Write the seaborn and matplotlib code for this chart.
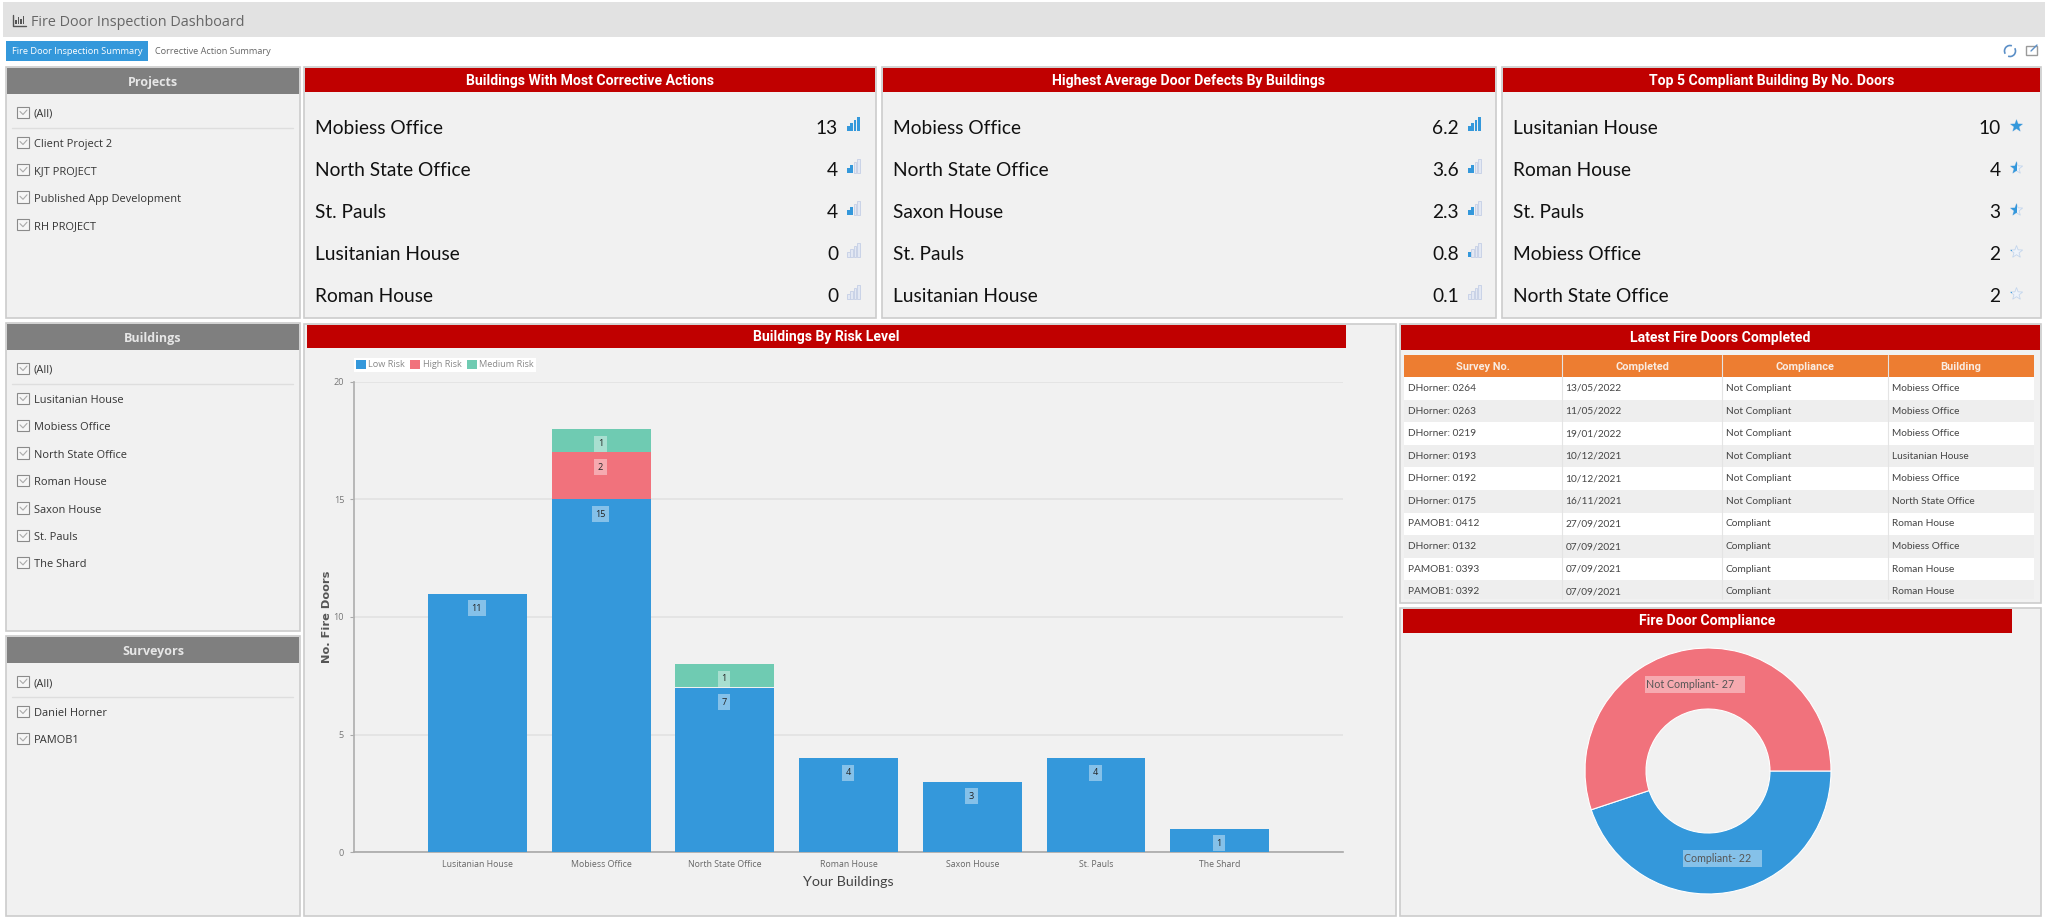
import matplotlib
matplotlib.use("Agg")
import matplotlib.pyplot as plt
import pandas as pd
import seaborn as sns
from matplotlib.patches import Rectangle, Polygon, Arc
import numpy as np

# bar chart data
buildings = ["Lusitanian House", "Mobiess Office", "North State Office", "Roman House",
             "Saxon House", "St. Pauls", "The Shard"]
low_risk = [11, 15, 7, 4, 3, 4, 1]
high_risk = [0, 2, 0, 0, 0, 0, 0]
medium_risk = [0, 1, 1, 0, 0, 0, 0]

# donut
compliance_labels = ["Compliant", "Not Compliant"]
compliance_values = [22, 27]

# kpi lists
kpi1_names = ["Mobiess Office", "North State Office", "St. Pauls", "Lusitanian House", "Roman House"]
kpi1_values = ["13", "4", "4", "0", "0"]
kpi1_levels = [4, 2, 2, 0, 0]
kpi2_names = ["Mobiess Office", "North State Office", "Saxon House", "St. Pauls", "Lusitanian House"]
kpi2_values = ["6.2", "3.6", "2.3", "0.8", "0.1"]
kpi2_levels = [4, 2, 2, 1, 0]
kpi3_names = ["Lusitanian House", "Roman House", "St. Pauls", "Mobiess Office", "North State Office"]
kpi3_values = ["10", "4", "3", "2", "2"]
kpi3_stars = [1.0, 0.5, 0.5, 0.2, 0.2]

# filters
projects = ["Client Project 2", "KJT PROJECT", "Published App Development", "RH PROJECT"]
surveyors = ["Daniel Horner", "PAMOB1"]

# table
table_header = ["Survey No.", "Completed", "Compliance", "Building"]
survey_no = ["DHorner: 0264", "DHorner: 0263", "DHorner: 0219", "DHorner: 0193", "DHorner: 0192",
             "DHorner: 0175", "PAMOB1: 0412", "DHorner: 0132", "PAMOB1: 0393", "PAMOB1: 0392"]
completed = ["13/05/2022", "11/05/2022", "19/01/2022", "10/12/2021", "10/12/2021",
             "16/11/2021", "27/09/2021", "07/09/2021", "07/09/2021", "07/09/2021"]
compliance = ["Not Compliant"] * 6 + ["Compliant"] * 4
table_building = ["Mobiess Office", "Mobiess Office", "Mobiess Office", "Lusitanian House", "Mobiess Office",
                  "North State Office", "Roman House", "Mobiess Office", "Roman House", "Roman House"]

BLUE = "#3498db"
PINK = "#f1727c"
GREEN = "#6fcbb2"
RED = "#c00000"
GREY = "#7f7f7f"
ORANGE = "#ed7d31"
PANEL = "#f1f1f1"
EDGE = "#cccccc"

sns.set_theme(style="white")
plt.rcParams["font.family"] = ["Open Sans", "DejaVu Sans"]

W, H = 2048, 924
fig = plt.figure(figsize=(W / 100, H / 100), dpi=100, facecolor="white")

bg = fig.add_axes([0, 0, 1, 1], zorder=0)
bg.set_xlim(0, W)
bg.set_ylim(H, 0)
bg.axis("off")


def box(x0, y0, x1, y1, fc, ec="none", lw=0.0, ax=bg, alpha=None):
    ax.add_patch(Rectangle((x0, y0), x1 - x0, y1 - y0, facecolor=fc, edgecolor=ec, linewidth=lw, alpha=alpha))


def px_axes(x0, y0, x1, y1, z=1):
    return fig.add_axes([x0 / W, 1 - y1 / H, (x1 - x0) / W, (y1 - y0) / H], zorder=z)


def panel(x0, y0, x1, y1):
    box(x0, y0, x1, y1, PANEL, EDGE, 1.2)


def red_title(x0, x1, y0, y1, s, size=10.1):
    box(x0, y0, x1, y1, RED)
    bg.text((x0 + x1) / 2, (y0 + y1) / 2 - 1, s, color="white", ha="center", va="center_baseline",
            fontsize=size, fontweight="bold", family="Roboto")


def filter_panel(y0, y1, title, items):
    panel(6, y0 - 1, 300, y1)
    box(7, y0, 299, y0 + 26, GREY)
    bg.text(153, y0 + 13, title, color="#e6e6e6", ha="center", va="center_baseline", fontsize=9, fontweight="bold")
    ys = [y0 + 45] + [y0 + 75 + i * 27.4 for i in range(len(items))]
    bg.plot([12, 293], [y0 + 59.5, y0 + 59.5], color="#dedede", lw=1)
    for y, s in zip(ys, ["(All)"] + items):
        box(17, y - 6.5, 29, y + 5, "#f6f6f6", "#8a8a8a", 0.8)
        bg.plot([20, 23, 27], [y - 1.5, y + 1.5, y - 3], color="#aaaaaa", lw=0.8)
        bg.text(34, y, s, color="#333333", ha="left", va="center_baseline", fontsize=7.9)


def signal(x, y, level):
    for i in range(4):
        h = 5.5 + i * 2.7
        on = i < level
        box(x + i * 3.4, y + 4 - h, x + i * 3.4 + 2.5, y + 4, BLUE if on else "#e3e8f3",
            "none" if on else "#c5cfe6", 0 if on else 0.6)


def star(x, y, frac):
    a = np.arange(10) * np.pi / 5 - np.pi / 2
    r = np.where(np.arange(10) % 2 == 0, 6.5, 2.7)
    pts = np.c_[x + r * np.cos(a), y + r * np.sin(a)]
    bg.add_patch(Polygon(pts, closed=True, facecolor="#eef3fa", edgecolor="#c5d6ec", linewidth=0.6))
    p = Polygon(pts, closed=True, facecolor=BLUE, edgecolor="none")
    bg.add_patch(p)
    p.set_clip_path(Rectangle((x - 7, y - 7), 14 * frac, 14, transform=bg.transData))


def kpi_panel(x0, x1, title, names, values, levels, val_x, stars=False):
    panel(x0, 67, x1, 318)
    red_title(x0 + 1, x1 - 1, 68, 92, title)
    for i, (n, v, l) in enumerate(zip(names, values, levels)):
        y = 127 + i * 42
        bg.text(x0 + 11, y, n, color="#111111", ha="left", va="center_baseline", fontsize=13.8, family="Lato")
        bg.text(val_x, y, v, color="#111111", ha="right", va="center_baseline", fontsize=13.8, family="Lato")
        if stars:
            star(val_x + 16, y - 1, l)
        else:
            signal(val_x + 9, y, l)


# top band and tabs
box(3, 2, 2045, 37, "#e2e2e2")
for i, h in enumerate([4, 7, 5, 8]):
    box(15 + i * 2.6, 24 - h, 16.6 + i * 2.6, 24, "#555555")
bg.plot([12.5, 12.5, 26], [15, 25.5, 25.5], color="#555555", lw=1)
bg.text(31, 20, "Fire Door Inspection Dashboard", color="#666666", ha="left", va="center_baseline", fontsize=10.4)
box(6, 41, 148, 61, BLUE)
bg.text(77, 51, "Fire Door Inspection Summary", color="white", ha="center", va="center_baseline", fontsize=6.7)
bg.text(155, 51, "Corrective Action Summary", color="#666666", ha="left", va="center_baseline", fontsize=6.6)
bg.add_patch(Arc((2010, 51), 11, 11, theta1=150, theta2=290, color="#5b8fc7", lw=1.2))
bg.add_patch(Arc((2010, 51), 11, 11, theta1=330, theta2=110, color="#5b8fc7", lw=1.2))
box(2026, 46, 2037, 55, "none", "#9a9a9a", 1)
bg.plot([2031, 2037], [51, 45], color="#5b8fc7", lw=1)

# filters
filter_panel(68, 318, "Projects", projects)
filter_panel(324, 631, "Buildings", buildings)
filter_panel(637, 916, "Surveyors", surveyors)

# kpis
kpi_panel(304, 876, "Buildings With Most Corrective Actions", kpi1_names, kpi1_values, kpi1_levels, 838)
kpi_panel(882, 1496, "Highest Average Door Defects By Buildings", kpi2_names, kpi2_values, kpi2_levels, 1459)
kpi_panel(1502, 2041, "Top 5 Compliant Building By No. Doors", kpi3_names, kpi3_values, kpi3_stars, 2000.5, stars=True)

# bar chart panel
panel(304, 324, 1396, 916)
red_title(307, 1346, 325, 348, "Buildings By Risk Level")

df = pd.DataFrame({"building": buildings, "low": low_risk, "high": high_risk, "medium": medium_risk})
ax = px_axes(353.8, 382, 1343.4, 852)
ax.patch.set_alpha(0)
bar_kw = dict(saturation=1, width=0.8, ax=ax, zorder=3, linewidth=0, edgecolor="none")
sns.barplot(data=df, x="building", y="low", color=BLUE, label="Low Risk", **bar_kw)
sns.barplot(data=df, x="building", y="high", bottom=df["low"], color=PINK, label="High Risk", **bar_kw)
sns.barplot(data=df, x="building", y="medium", bottom=df["low"] + df["high"], color=GREEN, label="Medium Risk",
            **bar_kw)
ax.set_xlim(-1, 7)
ax.set_ylim(0, 20)
ax.set_yticks([0, 5, 10, 15, 20])
ax.grid(axis="y", color="#e2e2e2", lw=1.2, zorder=0)
ax.set_axisbelow(True)
ax.tick_params(axis="x", length=0, pad=6, labelsize=6.3, labelcolor="#666666")
ax.tick_params(axis="y", length=3, width=0.8, color="#aaaaaa", pad=4, labelsize=6.6, labelcolor="#777777", left=True)
for s in ["top", "right"]:
    ax.spines[s].set_visible(False)
ax.spines["left"].set_color("#b0b0b0")
ax.spines["bottom"].set_color("#a8a8a8")
ax.spines["bottom"].set_linewidth(1.2)
ax.set_xlabel("Your Buildings", fontsize=10.3, family="Lato", color="#444444", labelpad=5)
ax.set_ylabel("No. Fire Doors", fontsize=8.2, family="DejaVu Sans", fontweight="bold", color="#555555", labelpad=1)

# value labels sit just under the top of each segment
for i in range(len(buildings)):
    base = 0
    for vals in (low_risk, high_risk, medium_risk):
        v = vals[i]
        base += v
        if v:
            ax.annotate(str(v), (i, base), xytext=(-0.5, -10.5), textcoords="offset points", ha="center", va="center",
                        fontsize=6.6, color="#222222",
                        bbox=dict(facecolor="white", alpha=0.4, edgecolor="none", pad=2.6))

leg = ax.legend(loc="upper left", bbox_to_anchor=(0, 1.052), ncol=3, frameon=True, fancybox=False, framealpha=1,
                facecolor="white", edgecolor="none", fontsize=6.6, handlelength=1.1, handleheight=1.1,
                handletextpad=0.25, columnspacing=0.55, borderpad=0.25, borderaxespad=0, labelcolor="#888888")

# table panel
panel(1400, 324, 2041, 603)
red_title(1401, 2040, 325, 350, "Latest Fire Doors Completed")
col_x = [1404, 1562, 1722, 1888, 2034]
box(col_x[0], 355, col_x[-1], 377, ORANGE)
for j, s in enumerate(table_header):
    bg.text((col_x[j] + col_x[j + 1]) / 2, 365.5, s, color="#f9ece2", ha="center", va="center_baseline", fontsize=7.9,
            fontweight="bold", family="Roboto")
    if j:
        bg.plot([col_x[j], col_x[j]], [355, 599], color="#e4e4e4", lw=0.8, zorder=3)
for i, row in enumerate(zip(survey_no, completed, compliance, table_building)):
    y0 = 377 + i * 22.6
    box(col_x[0], y0, col_x[-1], min(y0 + 22.6, 599), "white" if i % 2 == 0 else "#eeeeee")
    for j, s in enumerate(row):
        bg.text(col_x[j] + 3.5, y0 + 10.4, s, color="#444444", ha="left", va="center_baseline", fontsize=7.3,
                family="Lato")

# donut panel
panel(1400, 608, 2041, 916)
red_title(1403, 2012, 609, 633, "Fire Door Compliance")
pie_ax = px_axes(1585, 648, 1831, 894)
pie_ax.pie(compliance_values, colors=[BLUE, PINK], startangle=0, counterclock=False, radius=1,
           wedgeprops=dict(width=0.496, edgecolor="white", linewidth=0.8))
pie_ax.set_xlim(-1, 1)
pie_ax.set_ylim(-1, 1)

top = fig.add_axes([0, 0, 1, 1], zorder=5)
top.set_xlim(0, W)
top.set_ylim(H, 0)
top.axis("off")
for lab, val, bx in zip(compliance_labels, compliance_values, [(1683, 850, 1762, 867), (1645, 676, 1745, 693)]):
    box(bx[0], bx[1], bx[2], bx[3], "white", ax=top, alpha=0.4)
    top.text(bx[0] + 0.5, (bx[1] + bx[3]) / 2 - 1, f"{lab}- {val}", color="#555555", ha="left", va="center_baseline",
             fontsize=7.7, family="Lato")

fig.savefig("out.png", dpi=100)
